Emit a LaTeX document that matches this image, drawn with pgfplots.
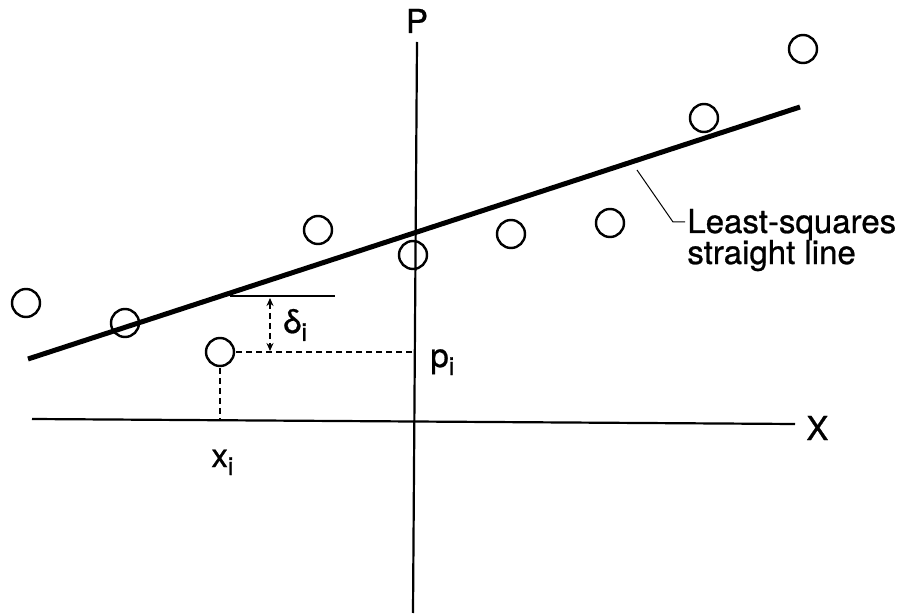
\documentclass[border=0pt]{standalone}
\usepackage{fontspec}
\setmainfont{TeX Gyre Heros}[FakeBold=0.8]
\usepackage{pgfplots}
\pgfplotsset{compat=1.18}
\usetikzlibrary{arrows.meta}

% subscript set in the text font
\newcommand\sub[1]{\raisebox{-4pt}{\fontsize{12.5}{12.5}\selectfont #1}}
\newcommand\lbl{\fontsize{16.5}{16.5}\selectfont}

\begin{document}
\begin{tikzpicture}
\begin{axis}[
    width=450.5pt, height=307.5pt,
    scale only axis,
    xmin=0, xmax=901,
    ymin=0, ymax=615,
    y dir=reverse,
    hide axis,
    clip=false,
]
% frame of the picture
\addplot[draw=none] coordinates {(0,0) (901,615)};

% axes
\addplot[line width=1.1pt] coordinates {(32,419) (795,424)};
\addplot[line width=1.1pt] coordinates {(417,42) (413,613)};

% least-squares line
\addplot[line width=2.5pt] coordinates {(28,359) (800,107)};

% data points
\addplot[only marks, mark=o, mark size=7pt, mark options={line width=1.2pt}]
coordinates {
    (26,303) (125,323) (220,352) (318,230) (413,255)
    (511,234) (610,223) (704,118) (803,49)
};

% deviation of point i
\addplot[line width=0.7pt] coordinates {(230,296) (335,296)};
\addplot[line width=0.65pt, dash pattern=on 3pt off 2pt,
    {Stealth[length=4pt,width=3.5pt]}-{Stealth[length=4pt,width=3.5pt]}]
    coordinates {(270,298) (270,351)};
\addplot[line width=0.65pt, dash pattern=on 3pt off 2pt]
    coordinates {(236,352) (413,352)};
\addplot[line width=0.65pt, dash pattern=on 3pt off 2pt]
    coordinates {(220,368) (220,419)};

% leader to the label
\addplot[line width=0.5pt] coordinates {(637,170) (673,222) (685,222)};

\node[anchor=base, inner sep=0] at (axis cs:417,33) {\lbl P};
\node[anchor=base west, inner sep=0] at (axis cs:806,440) {\lbl X};
\node[anchor=base west, inner sep=0] at (axis cs:211,467) {\lbl x\sub{i}};
\node[anchor=base west, inner sep=0] at (axis cs:430,367) {\lbl p\sub{i}};
\node[anchor=base west, inner sep=0] at (axis cs:283,333) {\lbl δ\sub{i}};
\node[anchor=base west, inner sep=0] at (axis cs:687,233) {\lbl Least-squares};
\node[anchor=base west, inner sep=0] at (axis cs:687,264) {\lbl straight line};
\end{axis}
\end{tikzpicture}
\end{document}
